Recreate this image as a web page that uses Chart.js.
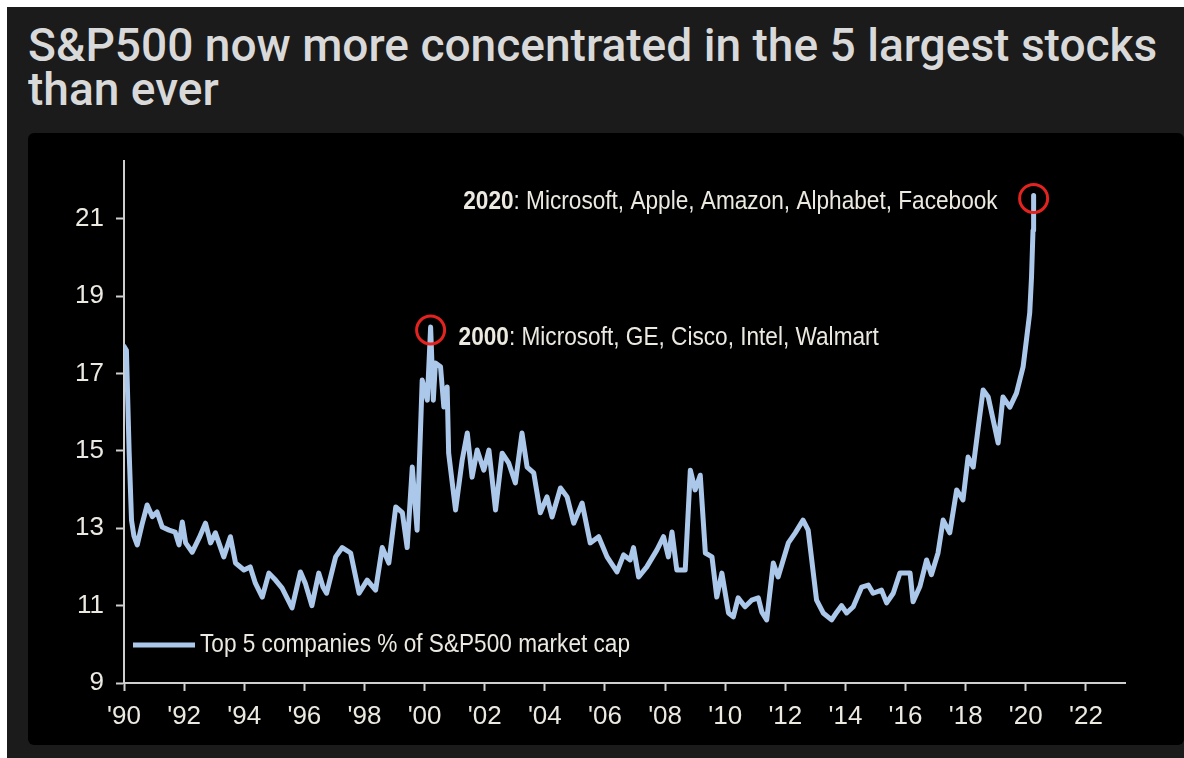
<!DOCTYPE html>
<html>
<head>
<meta charset="utf-8">
<script src="https://cdn.jsdelivr.net/npm/chart.js@4.4.1/dist/chart.umd.min.js"></script>
<style>
  html, body { margin: 0; padding: 0; background: #ffffff; }
  #frame { position: absolute; left: 7px; top: 7px; width: 1177px; height: 751px; background: #1b1b1b; overflow: hidden; }
  #title { position: absolute; left: 21px; top: 16px; margin: 0; font-family: Roboto, 'Noto Sans', sans-serif;
           font-weight: 500; font-size: 47px; line-height: 44px; color: #d9d9d9; white-space: nowrap;
           transform-origin: 0 0; }
  #panel { position: absolute; left: 21px; top: 126px; width: 1156px; height: 612px; background: #000; border-radius: 6px; }
</style>
</head>
<body>
<div id="frame">
  <h1 id="title">S&amp;P500 now more concentrated in the 5 largest stocks<br>than ever</h1>
  <div id="panel"><canvas id="concChart" width="1156" height="612"></canvas></div>
</div>
<script>
// Top 5 companies % of S&P500 market cap
const years = [
  1990.00, 1990.08, 1990.17, 1990.25, 1990.33, 1990.44, 1990.60, 1990.77, 1990.94, 1991.10,
  1991.27, 1991.50, 1991.70, 1991.83, 1991.94, 1992.05, 1992.27, 1992.50, 1992.71, 1992.88,
  1993.04, 1993.32, 1993.54, 1993.71, 1993.99, 1994.20, 1994.37, 1994.60, 1994.82, 1995.04,
  1995.26, 1995.59, 1995.87, 1996.03, 1996.25, 1996.48, 1996.62, 1996.74, 1997.04, 1997.26,
  1997.54, 1997.82, 1998.09, 1998.37, 1998.59, 1998.81, 1999.04, 1999.26, 1999.42, 1999.59,
  1999.75, 1999.92, 2000.09, 2000.20, 2000.29, 2000.36, 2000.53, 2000.64, 2000.75, 2000.80,
  2001.03, 2001.25, 2001.42, 2001.58, 2001.75, 2001.97, 2002.14, 2002.36, 2002.58, 2002.80,
  2003.02, 2003.24, 2003.41, 2003.63, 2003.85, 2004.07, 2004.24, 2004.52, 2004.74, 2004.96,
  2005.24, 2005.51, 2005.79, 2006.07, 2006.40, 2006.62, 2006.84, 2006.95, 2007.12, 2007.39,
  2007.73, 2007.95, 2008.11, 2008.23, 2008.39, 2008.67, 2008.84, 2009.00, 2009.17, 2009.34,
  2009.56, 2009.72, 2009.89, 2010.11, 2010.27, 2010.43, 2010.66, 2010.88, 2011.10, 2011.22,
  2011.38, 2011.60, 2011.76, 2011.93, 2012.10, 2012.33, 2012.59, 2012.76, 2013.04, 2013.26,
  2013.54, 2013.71, 2013.87, 2014.04, 2014.26, 2014.54, 2014.76, 2014.92, 2015.20, 2015.37,
  2015.59, 2015.81, 2016.15, 2016.25, 2016.48, 2016.70, 2016.86, 2017.08, 2017.25, 2017.47,
  2017.70, 2017.91, 2018.08, 2018.25, 2018.42, 2018.58, 2018.75, 2019.08, 2019.24, 2019.47,
  2019.69, 2019.91, 2020.02, 2020.13, 2020.19, 2020.24, 2020.26
];
const share = [
  17.7, 17.6, 15.0, 13.2, 12.8, 12.57, 13.1, 13.6, 13.3, 13.42,
  13.03, 12.95, 12.9, 12.57, 13.16, 12.62, 12.38, 12.75, 13.13, 12.62,
  12.88, 12.26, 12.78, 12.1, 11.92, 12.0, 11.58, 11.22, 11.84, 11.66,
  11.45, 10.94, 11.87, 11.58, 11.0, 11.84, 11.48, 11.32, 12.26, 12.5,
  12.36, 11.32, 11.66, 11.4, 12.5, 12.1, 13.55, 13.4, 12.5, 14.58,
  12.95, 16.83, 16.31, 18.2, 16.31, 17.27, 17.17, 16.13, 16.65, 14.94,
  13.47, 14.76, 15.46, 14.32, 15.02, 14.5, 15.02, 13.47, 14.94, 14.68,
  14.17, 15.46, 14.58, 14.43, 13.4, 13.81, 13.29, 14.04, 13.81, 13.13,
  13.65, 12.62, 12.78, 12.26, 11.87, 12.31, 12.18, 12.5, 11.74, 12.0,
  12.44, 12.78, 12.26, 12.9, 11.92, 11.92, 14.5, 13.99, 14.37, 12.36,
  12.26, 11.22, 11.84, 10.81, 10.71, 11.2, 10.97, 11.14, 11.2, 10.83,
  10.63, 12.1, 11.74, 12.18, 12.62, 12.88, 13.21, 12.95, 11.14, 10.81,
  10.63, 10.83, 11.0, 10.81, 10.97, 11.48, 11.53, 11.32, 11.4, 11.07,
  11.32, 11.84, 11.84, 11.1, 11.5, 12.18, 11.8, 12.36, 13.21, 12.88,
  13.99, 13.73, 14.84, 14.58, 15.62, 16.57, 16.39, 15.2, 16.39, 16.13,
  16.49, 17.17, 17.86, 18.56, 19.49, 20.7, 21.6
];
const xTicks = [1990, 1992, 1994, 1996, 1998, 2000, 2002, 2004, 2006, 2008, 2010, 2012, 2014, 2016, 2018, 2020, 2022];
const yTicks = [9, 11, 13, 15, 17, 19, 21];
const seriesLabel = 'Top 5 companies % of S&P500 market cap';
const noteYears = [2000.20, 2020.26];
const noteBold = ['2000', '2020'];
const noteText = [': Microsoft, GE, Cisco, Intel, Walmart', ': Microsoft, Apple, Amazon, Alphabet, Facebook'];

// fit the title to the width it has in the picture
const title = document.getElementById('title');
title.style.transform = 'scaleX(' + (1129 / title.scrollWidth) + ')';

// use the narrow face for ticks if it is installed
function hasFont(name) {
  const c = document.createElement('canvas').getContext('2d');
  c.font = '40px monospace';
  const a = c.measureText('Top 5 companies 1990').width;
  c.font = "40px '" + name + "', monospace";
  return c.measureText('Top 5 companies 1990').width !== a;
}
const tickFamily = hasFont('Liberation Sans Narrow') ? "'Liberation Sans Narrow'" : "'Liberation Sans', Arial";

const lineColor = '#abc8ea';
const axisColor = '#cfcfcf';
const textColor = '#ece9e1';

// squeezed text, like the condensed face in the picture
function squeezed(ctx, parts, x, y, align) {
  const sx = 0.87;
  let w = 0;
  parts.forEach(p => { ctx.font = p.font; w += ctx.measureText(p.text).width; });
  let cx = align === 'right' ? x - w * sx : x;
  ctx.save();
  ctx.textBaseline = 'middle';
  ctx.textAlign = 'left';
  ctx.fillStyle = textColor;
  parts.forEach(p => {
    ctx.font = p.font;
    ctx.save();
    ctx.translate(cx, y);
    ctx.scale(sx, 1);
    ctx.fillText(p.text, 0, 0);
    ctx.restore();
    cx += ctx.measureText(p.text).width * sx;
  });
  ctx.restore();
}

const extras = {
  id: 'extras',
  afterDatasetsDraw(chart) {
    const ctx = chart.ctx;
    const xs = chart.scales.x, ys = chart.scales.y;
    const area = chart.chartArea;

    // legend inside plot, bottom left
    const ly = area.bottom - 38;
    ctx.save();
    ctx.strokeStyle = lineColor;
    ctx.lineWidth = 5;
    ctx.beginPath();
    ctx.moveTo(area.left + 9, ly);
    ctx.lineTo(area.left + 71, ly);
    ctx.stroke();
    ctx.restore();
    squeezed(ctx, [{ text: seriesLabel, font: "26px 'Liberation Sans', Arial" }], area.left + 76, ly, 'left');

    // red circles on the two peaks and their notes
    noteYears.forEach((yr, i) => {
      const idx = years.indexOf(yr);
      const px = xs.getPixelForValue(yr);
      const py = ys.getPixelForValue(share[idx]);
      ctx.save();
      ctx.strokeStyle = '#e3231f';
      ctx.lineWidth = 3;
      ctx.beginPath();
      ctx.arc(px, py + 3, 14, 0, Math.PI * 2);
      ctx.stroke();
      ctx.restore();
      const parts = [
        { text: noteBold[i], font: "bold 26px 'Liberation Sans', Arial" },
        { text: noteText[i], font: "26px 'Liberation Sans', Arial" }
      ];
      if (i === 0) squeezed(ctx, parts, px + 28, py + 11, 'left');
      else squeezed(ctx, parts, px - 36, py + 6, 'right');
    });
  }
};

const ctx = document.getElementById('concChart');
new Chart(ctx, {
  type: 'line',
  data: {
    datasets: [{
      label: seriesLabel,
      data: share.map((v, i) => ({ x: years[i], y: v })),
      borderColor: lineColor,
      borderWidth: 5,
      borderJoinStyle: 'round',
      borderCapStyle: 'round',
      pointRadius: 0,
      tension: 0,
      fill: false
    }]
  },
  options: {
    responsive: false,
    animation: false,
    layout: { padding: { top: 27, right: 59, left: 0, bottom: 0 } },
    plugins: { legend: { display: false }, tooltip: { enabled: false } },
    scales: {
      x: {
        type: 'linear',
        min: 1990,
        max: 2023.3,
        afterBuildTicks: s => { s.ticks = xTicks.map(v => ({ value: v })); },
        afterFit: s => { s.height = 62; },
        grid: { drawOnChartArea: false, drawTicks: true, tickLength: 8, tickColor: axisColor, tickWidth: 2 },
        border: { display: true, color: axisColor, width: 2 },
        ticks: {
          color: textColor,
          padding: 10,
          maxRotation: 0,
          autoSkip: false,
          font: { family: tickFamily, size: 26 },
          callback: v => "'" + String(v).slice(2)
        }
      },
      y: {
        min: 9,
        max: 22.5,
        afterBuildTicks: s => { s.ticks = yTicks.map(v => ({ value: v })); },
        afterFit: s => { s.width = 96; },
        grid: { drawOnChartArea: false, drawTicks: true, tickLength: 8, tickColor: axisColor, tickWidth: 2 },
        border: { display: true, color: axisColor, width: 2 },
        ticks: {
          color: textColor,
          padding: 12,
          font: { family: tickFamily, size: 26 }
        }
      }
    }
  },
  plugins: [extras]
});
</script>
</body>
</html>
